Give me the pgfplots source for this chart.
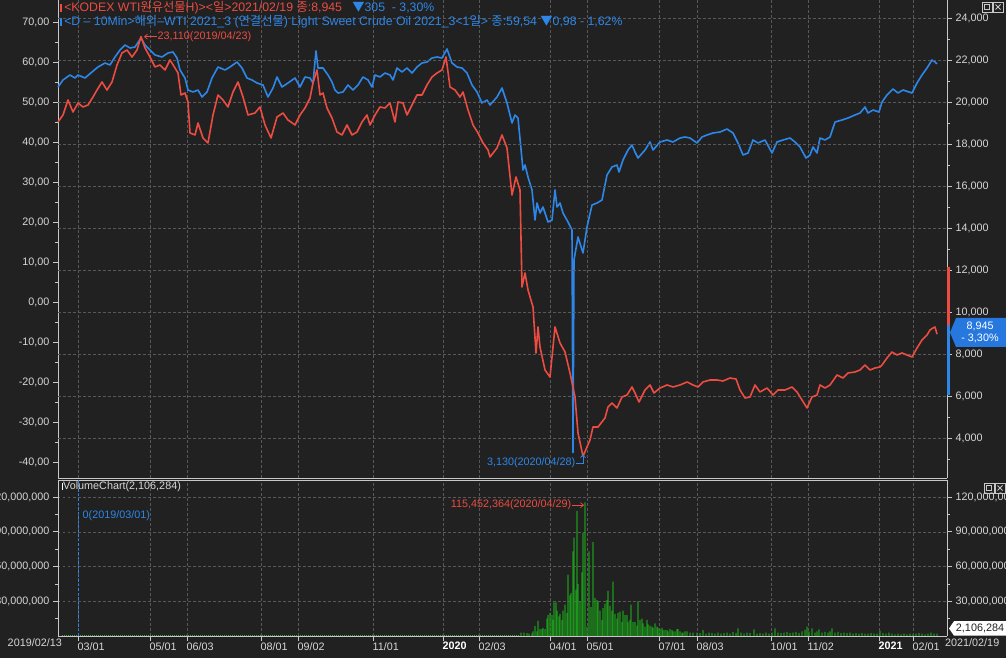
\documentclass[border=0pt]{standalone}
\usepackage{fontspec}
\setmainfont{Liberation Sans}
\newfontfamily\kr{Noto Sans CJK KR}
\usepackage{pgfplots}
\pgfplotsset{compat=1.18}
\usetikzlibrary{arrows.meta}
\definecolor{bgc}{RGB}{33,33,33}
\definecolor{axc}{RGB}{200,200,200}
\definecolor{txc}{RGB}{215,215,215}
\definecolor{gridc}{RGB}{88,88,88}
\definecolor{bluec}{RGB}{45,135,232}
\definecolor{redc}{RGB}{236,76,66}
\definecolor{grnc}{RGB}{28,150,28}
\definecolor{boxc}{RGB}{38,120,222}
\tikzset{tf/.style={font=\fontsize{10.8}{12}\selectfont}}
\pgfplotsset{
 base/.style={
   scale only axis, width=889pt, xmin=58, xmax=947, clip=false,
   axis line style={draw=axc, line width=0.8pt, -},
   tick style={draw=axc, line width=0.6pt},
   tick align=outside,
   major tick length=5pt, minor tick length=3pt,
   tick label style={text=txc, font=\fontsize{10.8}{12}\selectfont},
   major grid style={draw=gridc, line width=0.5pt, dash pattern=on 2.5pt off 2.5pt},
 },
}
\begin{document}
\begin{tikzpicture}[x=1pt,y=1pt]
\useasboundingbox (0,0) rectangle (1006,658);
\fill[bgc] (0,0) rectangle (1006,658);

% ---------- top panel: WTI futures (left axis, blue)
\begin{axis}[base, at={(58pt,180pt)}, anchor=south west, height=478pt,
  ymin=-44, ymax=75.5,
  axis y line*=left, axis x line*=bottom,
  ytick={-40,-30,...,70},
  yticklabels={{-40,00},{-30,00},{-20,00},{-10,00},{0,00},{10,00},{20,00},{30,00},{40,00},{50,00},{60,00},{70,00}},
  minor ytick={-35,-25,...,65},
  xtick={78,150,187,261,298,373,443,479,550,587,659,697,771,808,879,913},
  xticklabels={}, xtick style={draw=none}, xmajorgrids]
\addplot[bluec, line width=1.6pt, line join=round] coordinates {
(58,53.75)(63,55.5)(70,56.75)(75,56.0)(78,56.75)(85,56.0)(92,57.5)(98,58.75)(105,59.75)(110,59.25)(115,61.25)(120,63.0)(125,64.25)(130,63.5)(135,63.75)(141,66.0)(145,64.25)(150,63.0)(155,61.75)(162,61.25)(168,62.25)(173,62.5)(177,61.0)(180,58.0)(185,56.0)(188,53.0)(193,52.5)(198,53.0)(202,51.25)(207,52.5)(212,56.0)(218,58.75)(225,58.0)(230,58.75)(237,60.0)(242,58.5)(247,56.0)(252,55.5)(257,54.75)(263,54.25)(268,51.25)(273,53.5)(277,56.25)(282,53.75)(288,54.75)(295,56.0)(300,53.75)(305,56.25)(310,56.0)(313,54.75)(316,62.75)(318,58.5)(323,58.5)(328,56.75)(332,55.0)(335,53.0)(338,52.25)(343,52.5)(348,54.25)(353,53.0)(358,54.25)(363,56.25)(368,55.5)(372,53.75)(375,56.75)(380,56.25)(385,57.25)(390,56.75)(393,55.5)(397,58.5)(402,57.5)(407,58.5)(412,57.25)(417,58.75)(422,59.75)(427,60.0)(432,61.0)(437,61.25)(442,61.0)(447,63.25)(452,59.75)(457,58.75)(462,58.5)(467,57.25)(472,54.25)(477,52.5)(482,49.75)(487,50.5)(490,49.25)(497,51.25)(502,53.5)(507,49.75)(512,44.75)(515,46.75)(518,46.0)(523,33.0)(525,34.25)(528,31.25)(532,28.0)(535,20.5)(537,24.75)(540,22.25)(543,23.75)(548,20.0)(552,20.5)(555,28.0)(557,23.75)(560,24.75)(563,22.25)(568,20.0)(572,18.0)(573,-37.63)(574,10.5)(578,16.25)(583,12.25)(587,18.75)(592,24.25)(597,24.75)(602,25.5)(607,31.75)(612,33.75)(617,34.25)(619,32.5)(623,35.5)(628,38.0)(632,39.25)(635,37.5)(638,36.0)(645,38.0)(650,40.0)(653,38.0)(660,40.0)(667,40.5)(673,40.0)(680,41.0)(685,41.25)(690,41.0)(697,39.75)(702,41.25)(707,41.75)(713,42.25)(720,42.5)(727,43.25)(733,42.25)(738,39.75)(743,36.75)(748,37.25)(753,40.5)(758,39.75)(765,40.5)(772,37.25)(777,40.0)(783,40.5)(790,41.0)(795,40.0)(800,38.75)(806,36.0)(810,36.75)(813,38.75)(817,37.25)(820,41.0)(825,40.5)(830,41.25)(835,45.0)(842,45.5)(848,46.0)(855,46.75)(860,47.25)(865,48.75)(868,47.25)(873,48.0)(879,47.5)(882,50.0)(887,51.75)(893,53.25)(898,52.25)(903,53.0)(912,52.25)(917,54.75)(922,56.75)(927,58.5)(932,60.5)(935,60.0)(937,59.54)
};
\end{axis}

% ---------- top panel: KODEX ETF (right axis, red)
\begin{axis}[base, at={(58pt,180pt)}, anchor=south west, height=478pt,
  ymin=2095, ymax=24857,
  axis y line*=right, axis x line=none,
  ytick={4000,6000,...,24000},
  yticklabels={{4,000},{6,000},{8,000},{10,000},{12,000},{14,000},{16,000},{18,000},{20,000},{22,000},{24,000}},
  minor ytick={3000,5000,...,23000},
  ymajorgrids]
\addplot[redc, line width=1.6pt, line join=round] coordinates {
(58,19048)(63,19381)(68,20095)(73,19524)(78,19952)(83,19762)(88,19857)(93,20238)(97,20571)(102,20952)(107,20571)(112,20952)(117,21762)(122,22333)(127,22476)(132,22143)(137,22476)(141,23110)(145,22571)(150,22143)(155,21667)(160,21762)(165,21524)(170,22000)(175,21619)(178,21381)(181,20333)(185,20429)(188,20000)(190,18524)(195,18429)(198,19000)(203,18286)(208,18048)(213,19381)(218,20333)(223,20095)(228,19762)(233,20476)(238,20952)(243,20238)(248,19381)(255,19476)(260,19762)(265,18905)(271,18286)(277,19286)(283,19476)(288,19143)(295,18905)(300,19381)(305,19714)(310,20190)(313,20905)(317,21524)(320,20333)(323,20429)(327,19714)(332,19238)(337,18571)(342,18429)(347,18905)(352,18429)(357,18571)(362,19048)(367,19381)(370,18905)(375,19381)(380,19762)(385,19714)(390,19952)(395,19048)(398,20000)(403,19952)(407,19381)(412,19857)(417,20333)(422,20333)(427,20810)(432,21190)(437,21381)(442,21524)(446,22143)(450,20714)(455,20571)(460,20238)(463,20476)(468,19619)(473,18905)(478,18524)(483,18048)(488,17714)(490,17381)(497,17810)(502,18429)(507,17810)(512,15571)(516,16429)(520,15810)(522,11190)(525,11857)(528,11048)(533,10238)(536,8048)(538,9286)(540,8333)(545,7238)(550,6905)(555,9286)(560,8524)(565,8095)(570,7095)(575,5952)(578,4238)(583,3130)(587,3571)(590,3905)(593,4524)(598,4524)(605,4952)(608,5476)(612,5667)(617,5429)(622,5952)(627,6048)(632,6429)(635,6143)(639,5714)(645,6286)(650,6524)(654,6143)(660,6381)(667,6524)(673,6429)(680,6524)(687,6667)(693,6524)(698,6429)(703,6667)(710,6762)(717,6762)(723,6714)(730,6857)(736,6810)(740,6286)(745,5905)(750,5952)(755,6524)(760,6190)(767,6381)(773,6048)(778,6286)(785,6286)(792,6429)(797,6190)(802,5810)(807,5429)(812,5952)(817,6048)(820,6524)(825,6381)(830,6524)(837,7000)(843,6857)(848,7095)(855,7143)(860,7238)(865,7476)(870,7238)(875,7333)(880,7381)(882,7476)(887,7810)(892,8095)(897,7952)(902,8048)(907,7952)(912,7857)(917,8286)(922,8667)(927,8905)(930,9143)(933,9238)(935,9286)(937,8945)
};
% max / min annotations
\draw[redc, line width=0.7pt, -{Straight Barb[length=3pt,width=5pt]}] (axis cs:157,23110) -- (axis cs:144,23110);
\node[tf, anchor=west, inner sep=0.5pt, text=redc] at (axis cs:157,23110) {23,110(2019/04/23)};
\draw[bluec, line width=0.7pt, -{Straight Barb[length=3pt,width=5pt]}] (axis cs:576,2810) -- (axis cs:583,2810) -- (axis cs:583,3230);
\node[tf, anchor=east, inner sep=0.5pt, text=bluec] at (axis cs:576,2810) {3,130(2020/04/28)};
% range markers and last value box
\draw[redc, line width=3pt] (axis cs:948.5,12143) -- (axis cs:948.5,9381);
\draw[bluec, line width=3pt] (axis cs:948.5,9381) -- (axis cs:948.5,6048);
\fill[boxc] (axis cs:956,9714) -- (axis cs:1012,9714) -- (axis cs:1012,8333) -- (axis cs:956,8333) -- (axis cs:950,9023) -- cycle;
\node[text=white, align=center, inner sep=0, font=\fontsize{10.8}{11.5}\selectfont] at (axis cs:980,9023) {8,945\\- 3,30\%};
\end{axis}

% ---------- bottom panel: volume
\begin{axis}[base, at={(58pt,22pt)}, anchor=south west, height=156pt,
  ymin=0, ymax=134.7,
  axis y line*=left, axis x line*=bottom,
  ytick={30,60,90,120},
  yticklabels={{30,000,000},{60,000,000},{90,000,000},{120,000,000}},
  minor ytick={15,45,75,105},
  ymajorgrids, xmajorgrids,
  xtick={78,150,187,261,298,373,443,479,550,587,659,697,771,808,879,913},
  xticklabels={03/01,05/01,06/03,08/01,09/02,11/01,\textcolor{white}{\textbf{2020}},02/03,04/01,05/01,07/01,08/03,10/01,11/02,\textcolor{white}{\textbf{2021}},02/01},
  xticklabel style={anchor=north west, xshift=-1.5pt, inner sep=1pt},
  major x tick style={draw=axc}]
\addplot[grnc!85!white, densely dotted, line width=1pt] coordinates {(62,0.4)(520,0.4)};
\addplot[ybar, bar width=1.2pt, fill=grnc, draw=none] coordinates {
(521,3)(524,3)(527,2.5)(529,2)(532,2)(533,4)(535,8.6)(537,4)(538,13)(540,6)(542,6)(543,7)(545,6)(547,15)(548,18)(550,20)(552,18)(553,14)(554,29)(556,29)(557,22)(559,17)(560,19)(562,14)(563,22)(565,27)(567,20)(568,53)(570,35)(571,37)(573,73)(574,85)(576,40)(577,108)(578,45)(580,30)(582,55)(583,89)(585,115.45)(587,8)(589,73)(591,25)(593,81)(595,33)(597,31)(598,30)(600,22)(602,14)(603,24)(605,28)(607,31)(608,39)(610,26)(612,22)(613,47)(615,19)(617,15)(618,20)(620,21)(622,12)(623,22)(625,18)(627,18)(628,12)(630,14)(631,27)(633,12)(635,12)(637,9)(638,30)(640,14)(642,15)(643,11)(645,8)(647,14)(648,10)(650,9)(652,8)(653,7)(655,11)(657,8)(658,7)(660,6)(662,7)(663,5)(665,5)(667,5)(668,4)(670,6)(672,5)(673,4)(675,4)(677,6)(678,6)(680,4)(682,3)(683,3)(685,4)(687,4)(690,3)(693,3)(697,3)
(700,2.5)(703,5)(706,2)(709,3)(712,2.5)(715,2)(718,3)(721,2)(724,2.5)(727,3)(730,2)(733,3.5)(736,2.5)(738,6.6)(741,3)(744,2)(747,3)(750,2.5)(754,5.8)(757,2)(760,2.5)(763,2)(766,3)(769,2)(772,3)(775,6.6)(778,3)(781,2.5)(784,3)(787,3.5)(790,2.5)(793,3)(796,3.5)(799,2.5)(802,4)(805,5)(807,8)(809,4)(812,6.6)(815,3)(817,4)(819,5.8)(822,3)(825,3.5)(828,3)(830,4)(832,6.6)(835,3)(838,3.5)(841,2.5)(844,3)(847,2.5)(850,3)(853,2)(856,2.5)(859,2)(862,2.5)(865,2)(868,2)(871,2.5)(874,2)(877,2)(880,4.6)(883,2.5)(886,2)(889,2.9)(892,2)(895,1.5)(898,2)(901,1.5)(904,2)(907,1.5)(910,2)(913,1.5)(916,2)(919,2.5)(922,2)(925,1.5)(928,2)(931,3)(934,2)(937,2.1)
};
\draw[axc, line width=0.8pt] (rel axis cs:0,1) -- (rel axis cs:1,1);
\draw[bluec, line width=0.6pt, dash pattern=on 2.5pt off 2pt] (axis cs:78,0) -- (axis cs:78,134.7);
\node[tf, anchor=west, inner sep=0.5pt, text=bluec] at (axis cs:82,103.6) {0(2019/03/01)};
\node[tf, anchor=east, inner sep=0.5pt, text=redc] at (axis cs:572,113) {115,452,364(2020/04/29)};
\draw[redc, line width=0.7pt, -{Straight Barb[length=3pt,width=5pt]}] (axis cs:572,113) -- (axis cs:584,113);
\node[tf, anchor=west, inner sep=0.5pt, text=txc] at (axis cs:61,128.6) {\textcolor{white}{\rule{1.5pt}{7pt}}VolumeChart(2,106,284)};
\node[tf, anchor=north east, inner sep=1pt, text=txc] at (axis cs:63,-1.5) {2019/02/13};
\node[tf, anchor=north west, inner sep=1pt, text=txc] at (axis cs:944,-1.5) {2021/02/19};
\fill[white] (axis cs:954,12.8) -- (axis cs:1012,12.8) -- (axis cs:1012,0.3) -- (axis cs:954,0.3) -- (axis cs:949,6.5) -- cycle;
\node[text=bgc, inner sep=0, font=\fontsize{10.8}{12}\selectfont] at (axis cs:980,6.5) {2,106,284};
\end{axis}

\begin{axis}[base, at={(58pt,22pt)}, anchor=south west, height=156pt,
  ymin=0, ymax=134.7,
  axis y line*=right, axis x line=none,
  ytick={30,60,90,120},
  yticklabels={{30,000,000},{60,000,000},{90,000,000},{120,000,000}},
  minor ytick={15,45,75,105}]
\addplot[draw=none] coordinates {(58,0)};
\end{axis}

% titles
\node[anchor=west, inner sep=0, text=redc, font=\fontsize{12.3}{13}\selectfont] at (60,650)
 {\rule{2pt}{8pt}\,<KODEX WTI{\kr 원유선물}H)><{\kr 일}>2021/02/19 {\kr 종}:8,945\ \ \ \textcolor{bluec}{{\kr ▼}305 \ - 3,30\%}};
\node[anchor=west, inner sep=0, text=bluec, font=\fontsize{12.3}{13}\selectfont] at (60,636)
 {\rule{2pt}{8pt}\,<D – 10Min>{\kr 해외}–WTI 2021\_3 ({\kr 연결선물}) Light Sweet Crude Oil 2021\_3<1{\kr 일}> {\kr 종}:59,54 {\kr ▼}0,98 - 1,62\%};
% window icons
\draw[axc, line width=0.6pt] (982,646) rectangle (992,656);
\draw[axc, line width=0.6pt] (984.5,648.5) rectangle (989.5,653.5);
\draw[axc, line width=0.6pt] (993,646) rectangle (1003,656);
\draw[axc, line width=0.8pt] (995.5,648.5) -- (1000.5,653.5) (995.5,653.5) -- (1000.5,648.5);
\draw[axc, line width=0.6pt] (984,165) rectangle (994,175);
\draw[axc, line width=0.6pt] (986.5,167.5) rectangle (991.5,172.5);
\draw[axc, line width=0.6pt] (995,165) rectangle (1005,175);
\draw[axc, line width=0.8pt] (997.5,167.5) -- (1002.5,172.5) (997.5,172.5) -- (1002.5,167.5);
\end{tikzpicture}
\end{document}
